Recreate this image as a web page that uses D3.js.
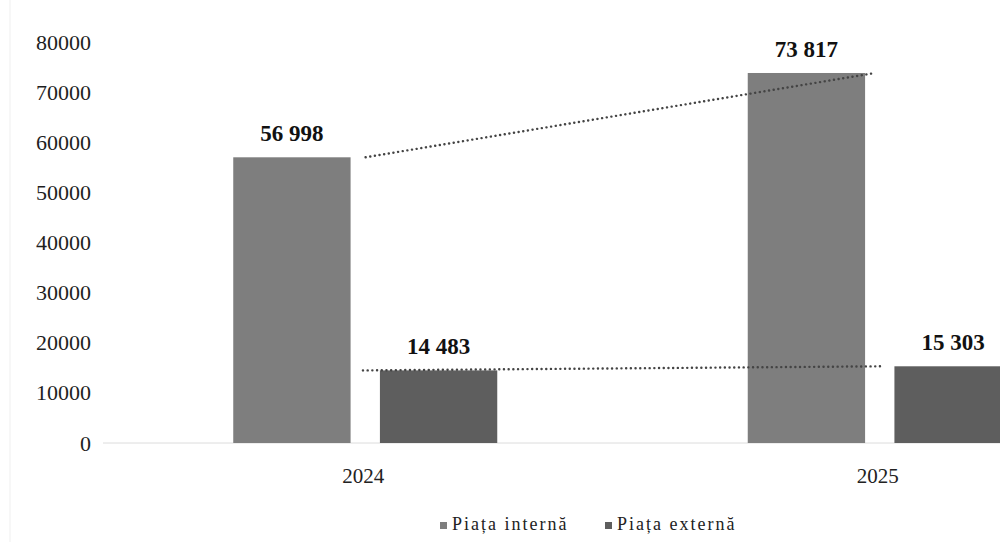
<!DOCTYPE html>
<html>
<head>
<meta charset="utf-8">
<script src="https://cdn.jsdelivr.net/npm/d3@7"></script>
<style>
	body { margin: 0; background: #fff; }
	svg { display: block; }
	svg text { font-family: "Liberation Serif", "Times New Roman", serif; }
</style>
</head>
<body>
<div id="chart"></div>
<script>
var years = ['2024', '2025'];
var seriesNames = ['Piața internă', 'Piața externă'];
var internal = [56998, 73817];
var external = [14483, 15303];
var yTicks = [0, 10000, 20000, 30000, 40000, 50000, 60000, 70000, 80000];

var width = 1000;
var height = 542;
var colors = ['#7e7e7e', '#5e5e5e'];
var serif = '"Liberation Serif", "Times New Roman", serif';

var svg = d3.select('#chart')
	.append('svg')
	.attr('width', width)
	.attr('height', height)
	.attr('font-family', serif);

// faint scan border on the left
svg.append('line')
	.attr('x1', 10).attr('x2', 10)
	.attr('y1', 0).attr('y2', height)
	.attr('stroke', '#efefef');

var y = d3.scaleLinear()
	.domain([0, 80000])
	.range([443, 42]);

// groups run past the right edge, as in the cropped original
var x0 = d3.scaleBand()
	.domain(years)
	.range([108, 1137]);

var x1 = d3.scaleBand()
	.domain(seriesNames)
	.range([-132, 132])
	.paddingInner(0.2);

var fmt = d3.formatLocale({decimal: ',', thousands: ' ', grouping: [3], currency: ['', '']}).format(',');

var yAxis = d3.axisLeft(y)
	.tickValues(yTicks)
	.tickFormat(d3.format('d'))
	.tickSize(0)
	.tickPadding(0);

var gy = svg.append('g')
	.attr('transform', 'translate(91,0)')
	.call(yAxis)
	.attr('font-family', serif)
	.attr('font-size', 22);
gy.select('.domain').remove();
gy.selectAll('text').attr('fill', '#1e1e1e');

// baseline
svg.append('line')
	.attr('x1', 103).attr('x2', width)
	.attr('y1', y(0)).attr('y2', y(0))
	.attr('stroke', '#dcdcdc')
	.attr('stroke-width', 1);

var rows = years.map(function(yr, i){
	return {year: yr, values: [internal[i], external[i]]};
});

function center(yr){ return x0(yr) + x0.bandwidth() / 2; }

var group = svg.selectAll('.grp')
	.data(rows)
	.enter()
	.append('g')
	.attr('class', 'grp')
	.attr('transform', function(d){ return 'translate(' + center(d.year) + ',0)'; });

group.selectAll('rect')
	.data(function(d){ return d.values.map(function(v, i){ return {name: seriesNames[i], value: v, i: i}; }); })
	.enter()
	.append('rect')
	.attr('x', function(d){ return x1(d.name); })
	.attr('y', function(d){ return y(d.value); })
	.attr('width', x1.bandwidth())
	.attr('height', function(d){ return y(0) - y(d.value); })
	.attr('fill', function(d){ return colors[d.i]; });

group.selectAll('.lbl')
	.data(function(d){ return d.values.map(function(v, i){ return {name: seriesNames[i], value: v}; }); })
	.enter()
	.append('text')
	.attr('class', 'lbl')
	.attr('x', function(d){ return x1(d.name) + x1.bandwidth() / 2; })
	.attr('y', function(d){ return y(d.value) - 16; })
	.attr('text-anchor', 'middle')
	.attr('font-size', 23)
	.attr('font-weight', 'bold')
	.attr('fill', '#111')
	.text(function(d){ return fmt(d.value); });

group.append('text')
	.attr('x', -2)
	.attr('y', 483)
	.attr('text-anchor', 'middle')
	.attr('font-size', 21)
	.attr('fill', '#222')
	.text(function(d){ return d.year; });

// dotted connectors between the tops, drawn over the bars
var linesData = [
	{x1: center('2024') + x1(seriesNames[0]) + x1.bandwidth() + 15, y1: y(internal[0]),
	 x2: center('2025') + x1(seriesNames[0]) + x1.bandwidth() + 10, y2: y(internal[1])},
	{x1: center('2024') + x1(seriesNames[1]) - 17, y1: y(external[0]),
	 x2: center('2025') + x1(seriesNames[1]) - 13, y2: y(external[1])}
];
svg.selectAll('.conn')
	.data(linesData)
	.enter()
	.append('line')
	.attr('class', 'conn')
	.attr('x1', function(d){ return d.x1; })
	.attr('y1', function(d){ return d.y1; })
	.attr('x2', function(d){ return d.x2; })
	.attr('y2', function(d){ return d.y2; })
	.attr('stroke', '#444')
	.attr('stroke-width', 2.4)
	.attr('stroke-linecap', 'round')
	.attr('stroke-dasharray', '0.1 4.6');

// legend
var legend = svg.selectAll('.legend')
	.data(seriesNames)
	.enter()
	.append('g')
	.attr('class', 'legend')
	.attr('transform', function(d, i){ return 'translate(' + (440 + i * 165) + ',530)'; });

legend.append('rect')
	.attr('x', 0)
	.attr('y', -8)
	.attr('width', 7)
	.attr('height', 7)
	.attr('fill', function(d, i){ return colors[i]; });

legend.append('text')
	.attr('x', 12)
	.attr('y', 0)
	.attr('font-size', 18)
	.attr('letter-spacing', 2)
	.attr('fill', '#222')
	.text(function(d){ return d; });
</script>
</body>
</html>
